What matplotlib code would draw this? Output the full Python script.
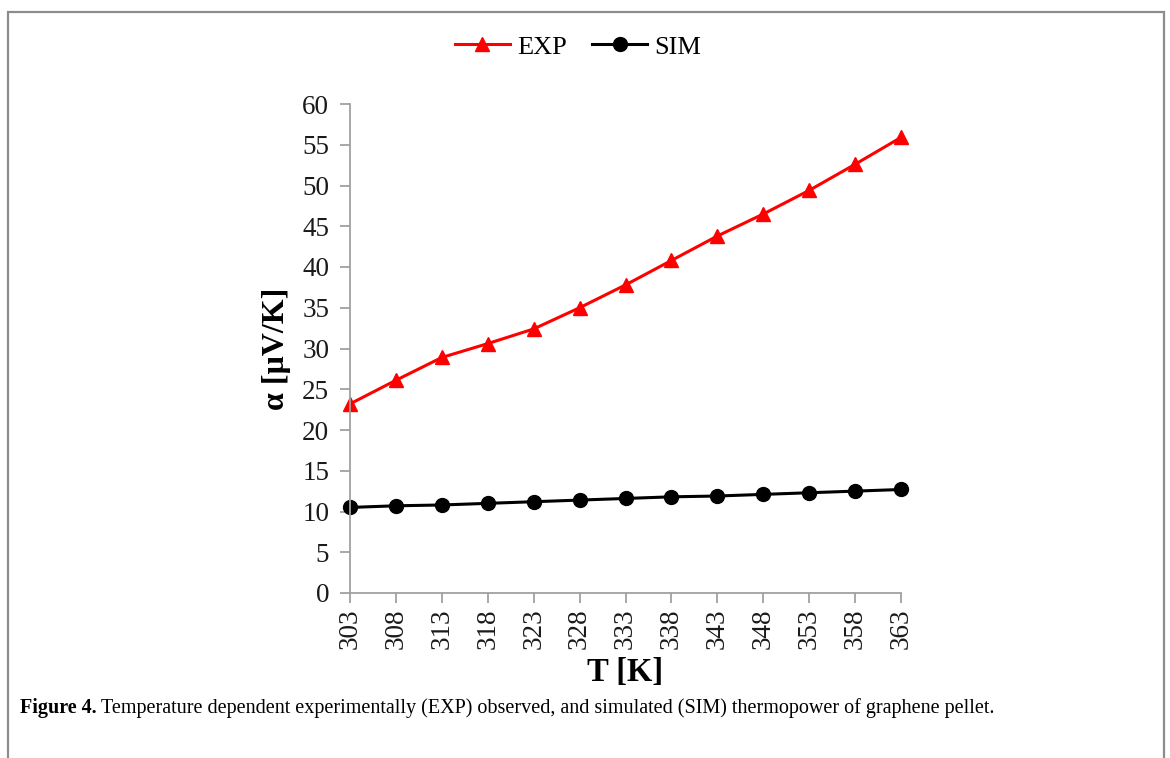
import numpy as np
import matplotlib
matplotlib.use("Agg")
import matplotlib.pyplot as plt
from matplotlib.patches import Rectangle

# temperatura [K]
temperatura = [303, 308, 313, 318, 323, 328, 333, 338, 343, 348, 353, 358, 363]
# termopotencia experimental [uV/K]
alfa_exp = [23.2, 26.1, 28.9, 30.6, 32.4, 35.0, 37.8, 40.8, 43.8, 46.5, 49.4, 52.6, 55.9]
# termopotencia simulada [uV/K]
alfa_sim = [10.5, 10.7, 10.8, 11.0, 11.2, 11.4, 11.6, 11.8, 11.9, 12.1, 12.3, 12.5, 12.7]

serif = ['Liberation Serif', 'DejaVu Serif']
plt.rcParams['font.family'] = serif

fig = plt.figure(figsize=(11.7, 7.58), dpi=100)

# marco gris de la figura
fig.patches.append(Rectangle((8/1170, -0.05), (1164-8)/1170, 1 - 12/758 + 0.05,
                             transform=fig.transFigure, fill=False,
                             edgecolor='#8c8c8c', linewidth=1.6))

ax = fig.add_axes([350/1170, 1 - 593/758, (901-350)/1170, (593-104)/758])

ax.plot(temperatura, alfa_exp, color='#ff0000', linewidth=2.2, marker='^',
        markersize=10, label='EXP', clip_on=False)
ax.plot(temperatura, alfa_sim, color='black', linewidth=2.2, marker='o',
        markersize=10, label='SIM', clip_on=False)

ax.set_xlim(303, 363)
ax.set_ylim(0, 60)
ax.set_xticks(temperatura)
ax.set_xticklabels([str(t) for t in temperatura], rotation=90)
ax.set_yticks(np.arange(0, 61, 5))

for s in ['top', 'right']:
    ax.spines[s].set_visible(False)
for s in ['left', 'bottom']:
    ax.spines[s].set_color('#a0a0a0')
    ax.spines[s].set_linewidth(1.3)
ax.tick_params(axis='both', direction='out', length=7, width=1.3,
               color='#a0a0a0', labelsize=19.5, labelcolor='#1a1a1a')
ax.tick_params(axis='x', pad=4)
ax.tick_params(axis='y', pad=8)

ax.set_xlabel('T [K]', fontsize=23.5, fontweight='bold', labelpad=6)
ax.set_ylabel('α [μV/K]', fontsize=23, fontweight='bold', labelpad=8)

ax.legend(loc='center', ncol=2, frameon=False,
          fontsize=19, handlelength=2.1, handletextpad=0.27, columnspacing=0.95,
          borderaxespad=0, borderpad=0)
ax.get_legend().set_bbox_to_anchor((578/1170, 1 - 47/758), transform=fig.transFigure)

# leyenda de la figura (negrita + normal)
t1 = fig.text(20/1170, 1 - 708/758, 'Figure 4.', fontsize=14.5, fontweight='bold',
              va='center', ha='left')
fig.canvas.draw()
bb = t1.get_window_extent(fig.canvas.get_renderer())
fig.text(bb.x1/1170 + 4/1170, 1 - 708/758,
         'Temperature dependent experimentally (EXP) observed, and simulated (SIM) thermopower of graphene pellet.',
         fontsize=14.5, va='center', ha='left')

fig.savefig('out.png', dpi=100)
